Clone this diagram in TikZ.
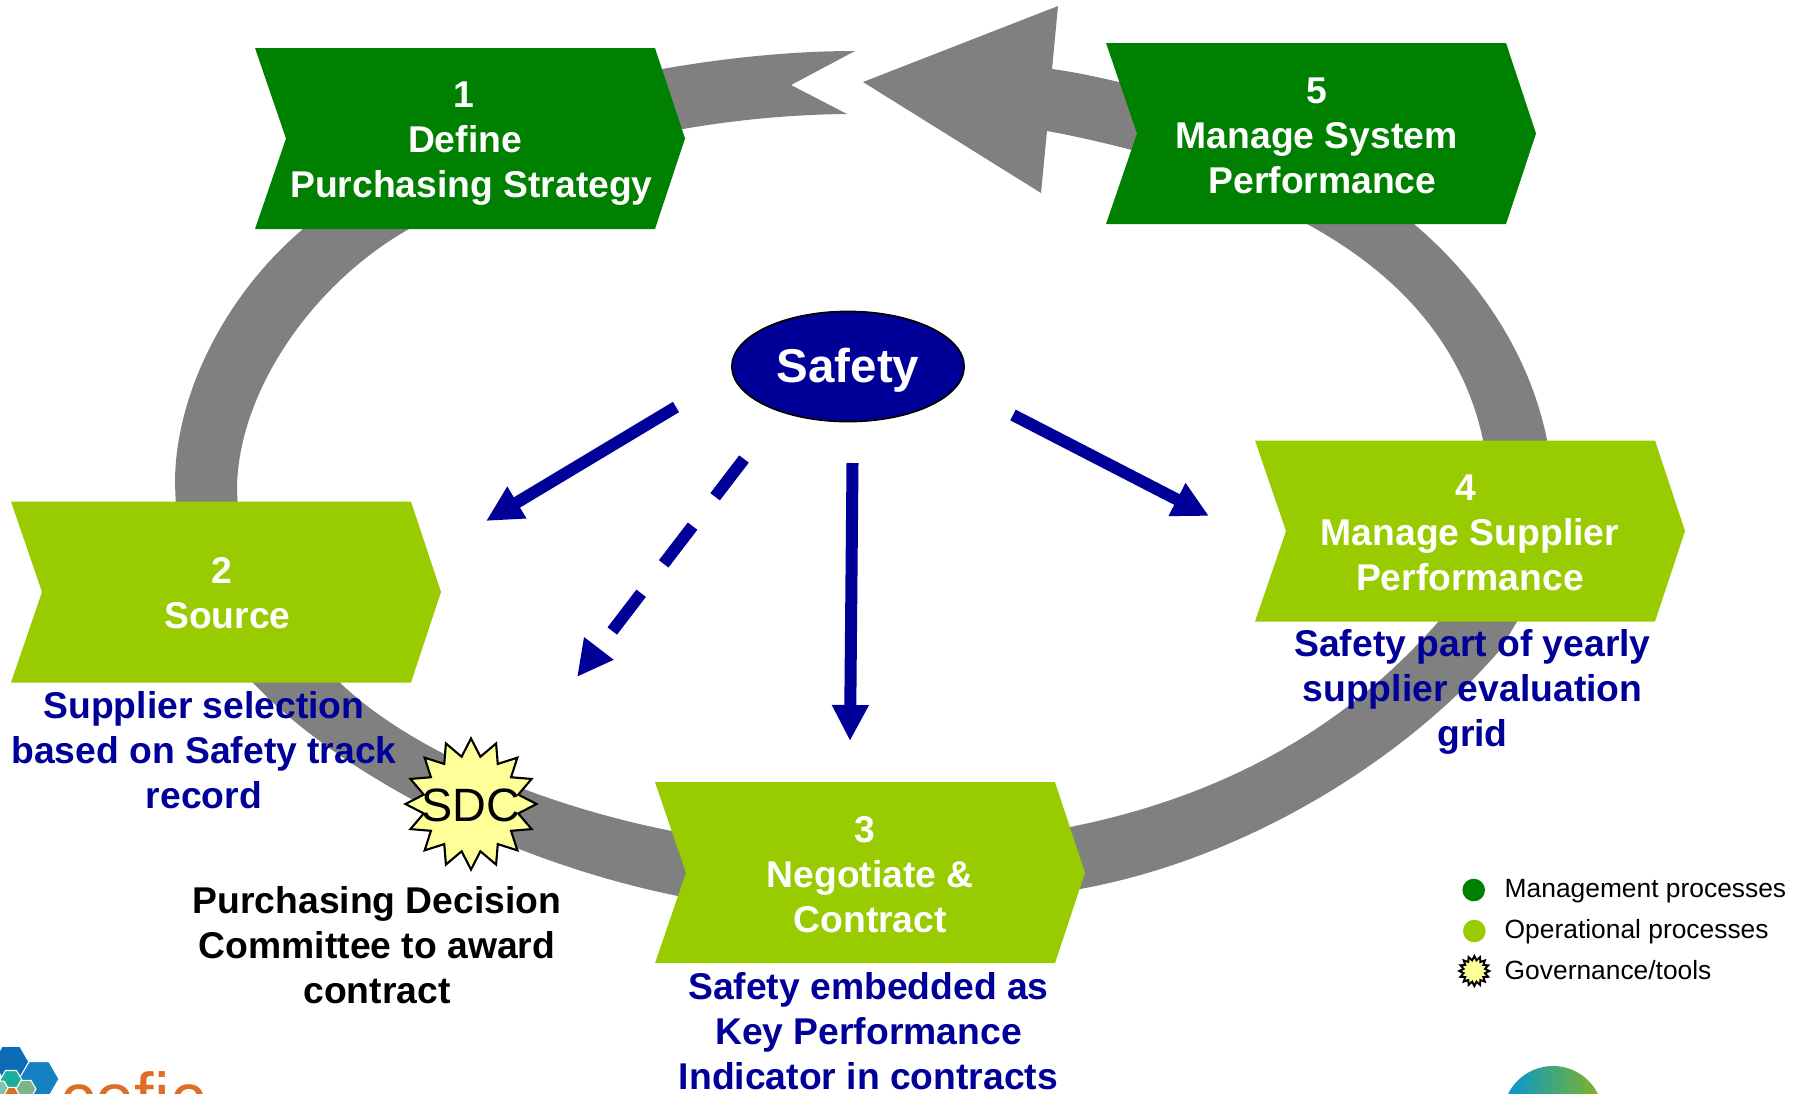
\documentclass[tikz,border=0pt]{standalone}
\usepackage{fontspec}
\setmainfont{Liberation Sans}
\usetikzlibrary{arrows.meta,shapes.geometric}
\definecolor{dkgreen}{HTML}{008000}
\definecolor{ltgreen}{HTML}{99CC00}
\definecolor{ringgrey}{HTML}{808080}
\definecolor{navy}{HTML}{000099}
\definecolor{paleyellow}{HTML}{FFFF99}
\definecolor{ceficorange}{HTML}{DD6E26}
\tikzset{
  ring/.style={fill=ringgrey,draw=none},
  steptext/.style={text=white,font=\fontsize{10.6}{12.8}\selectfont\bfseries,align=center,inner sep=0pt},
  note/.style={text=navy,font=\fontsize{10.6}{12.8}\selectfont\bfseries,align=center,inner sep=0pt},
  blacknote/.style={text=black,font=\fontsize{10.6}{12.8}\selectfont\bfseries,align=center,inner sep=0pt},
  legendtext/.style={text=black,font=\fontsize{7.5}{9}\selectfont,anchor=base west,inner sep=0pt},
  safetyarrow/.style={draw=navy,line width=0.12cm,-{Triangle[length=0.36cm,width=0.345cm]}},
  burst/.style={star,star points=16,draw=black,fill=paleyellow,inner sep=0pt},
}
\newcommand{\chevron}[3]{\fill[#3] (#1,#2-90.5) -- (#1+400,#2-90.5) -- (#1+430,#2) -- (#1+400,#2+90.5) -- (#1,#2+90.5) -- (#1+31,#2) -- cycle;}
\newcommand{\hexa}[4]{\path[fill=#4,draw=white,line width=0.3pt] ({#1+#3},#2) -- ({#1+#3/2},{#2+.866*#3}) -- ({#1-#3/2},{#2+.866*#3}) -- ({#1-#3},#2) -- ({#1-#3/2},{#2-.866*#3}) -- ({#1+#3/2},{#2-.866*#3}) -- cycle;}
\newcommand{\shl}[1]{\hspace*{#1}}
\begin{document}
\begin{tikzpicture}[x=0.01cm,y=-0.01cm]
\useasboundingbox (0,0) rectangle (1800,1093);
\clip (0,0) rectangle (1800,1093);
% ring pieces
\fill[ring] (855,51) .. controls (790,51) and (725,58) .. (662,69)
  .. controls (520,95) and (390,165) .. (303,229)
  .. controls (225,295) and (175,395) .. (175,483) -- (176,510) -- (238,510) -- (237,490)
  .. controls (237,395) and (310,285) .. (409,229)
  .. controls (480,185) and (580,145) .. (683,129)
  .. controls (735,120) and (790,114.5) .. (847,114)
  -- (791,85) -- cycle;
\fill[ring] (240,672) -- (253,682.7) .. controls (335,770) and (500,860) .. (678,896) -- (700,901)
  -- (710,840) -- (672,831) .. controls (540,805) and (410,750) .. (340,682.7) -- (330,672) -- cycle;
\fill[ring] (1060,893) -- (1080,889) .. controls (1240,860) and (1400,765) .. (1500,650) -- (1530,600)
  -- (1450,600) -- (1438,622) .. controls (1335,740) and (1205,800) .. (1070,827) -- (1050,832) -- cycle;
\fill[ring] (1549,450) -- (1547,440) .. controls (1530,355) and (1480,280) .. (1414,224) -- (1350,180)
  -- (1280,205) -- (1307,224) .. controls (1410,280) and (1465,355) .. (1483,440) -- (1485,450) -- cycle;
\fill[ring] (863,82) -- (1058,6) -- (1052,69) .. controls (1075,72) and (1097,77) .. (1119,82) -- (1170,95) -- (1170,160) -- (1132,150) .. controls (1105,143) and (1075,136) .. (1047,131) -- (1041,193) -- cycle;
% chevrons
\chevron{255}{138.5}{dkgreen}
\chevron{1106}{133.5}{dkgreen}
\chevron{11}{592}{ltgreen}
\chevron{1255}{531}{ltgreen}
\chevron{655}{872.7}{ltgreen}
\node[steptext] (s1) at (471.5,144) {\shl{-0.154cm}1\\\shl{-0.13cm}Define\\Purchasing Strategy};
\node[steptext] (s5) at (1316.7,135.5) {5\\Manage System\\\shl{0.115cm}Performance};
\node[steptext] (s2) at (221.7,593.5) {2\\\shl{0.115cm}Source};
\node[steptext] (s4) at (1470,533) {\shl{-0.092cm}4\\Manage Supplier\\Performance};
\node[steptext] (s3) at (870.2,874.5) {\shl{-0.115cm}3\\Negotiate \&\\Contract};
% captions
\node[note] (n2) at (204,750) {Supplier selection\\based on Safety track\\record};
\node[note] (n4) at (1472.5,692) {Safety part of yearly\\supplier evaluation\\grid};
\node[note] (n3) at (868.5,1031) {Safety embedded as\\Key Performance\\Indicator in contracts};
\node[blacknote] (pdc) at (377,945) {Purchasing Decision\\Committee to award\\contract};
% safety
\node[ellipse,draw=black,line width=0.5pt,fill=navy,minimum width=2.32cm,minimum height=1.10cm,inner sep=0pt] (safety) at (848,366.5) {};
\node[inner sep=0pt,text=white,font=\fontsize{13.5}{16}\selectfont\bfseries] (safetyt) at (848,370) {Safety};
\coordinate (a1s) at (676,407); \coordinate (a1e) at (486,521);
\coordinate (a2s) at (744,459); \coordinate (a2e) at (577,677);
\coordinate (a3s) at (852.5,463); \coordinate (a3e) at (850,741);
\coordinate (a4s) at (1013,415); \coordinate (a4e) at (1209,516);
\draw[safetyarrow] (a1s) -- (a1e);
\draw[safetyarrow,dash pattern=on 0.475cm off 0.37cm] (a2s) -- (a2e);
\draw[safetyarrow] (a3s) -- (a3e);
\draw[safetyarrow] (a4s) -- (a4e);
% SDC
\node[burst,line width=0.6pt,minimum size=1.31cm,star point ratio=1.36] (sdc) at (471,804) {};
\node[inner sep=0pt,font=\fontsize{13.3}{15}\selectfont] (sdct) at (471,805) {SDC};
% legend
\fill[dkgreen] (1473.7,890) circle[radius=0.113cm];
\fill[ltgreen] (1474.3,931) circle[radius=0.113cm];
\node[burst,line width=0.55pt,minimum size=0.30cm,star point ratio=1.38] (lgstar) at (1474.3,971) {};
\node[legendtext] (l1) at (1504,897) {Management processes};
\node[legendtext] (l2) at (1504,938) {Operational processes};
\node[legendtext] (l3) at (1504,979.5) {Governance/tools};
% logos
\definecolor{lgA}{HTML}{0095DA}
\definecolor{lgB}{HTML}{0E9E9A}
\definecolor{lgC}{HTML}{86B51E}
\shade[left color=lgA,middle color=lgB,right color=lgC] (1553,1116) circle[radius=0.50cm];
\definecolor{hxA}{HTML}{0D6CB5}
\definecolor{hxB}{HTML}{1580C2}
\definecolor{hxC}{HTML}{1BAE9D}
\definecolor{hxD}{HTML}{7FB487}
\definecolor{hxE}{HTML}{7FC4B0}
\hexa{11}{1062}{18}{hxA}
\hexa{39}{1079}{20}{hxB}
\hexa{11}{1080}{11}{hxC}
\hexa{26}{1089}{10}{hxD}
\hexa{10}{1096}{10}{ceficorange}
\hexa{0}{1088}{8}{hxE}
\node[anchor=base west,inner sep=0pt,text=ceficorange,font=\fontsize{20}{24}\selectfont] (cefic) at (60,1122) {cefic};
\end{tikzpicture}
\end{document}
